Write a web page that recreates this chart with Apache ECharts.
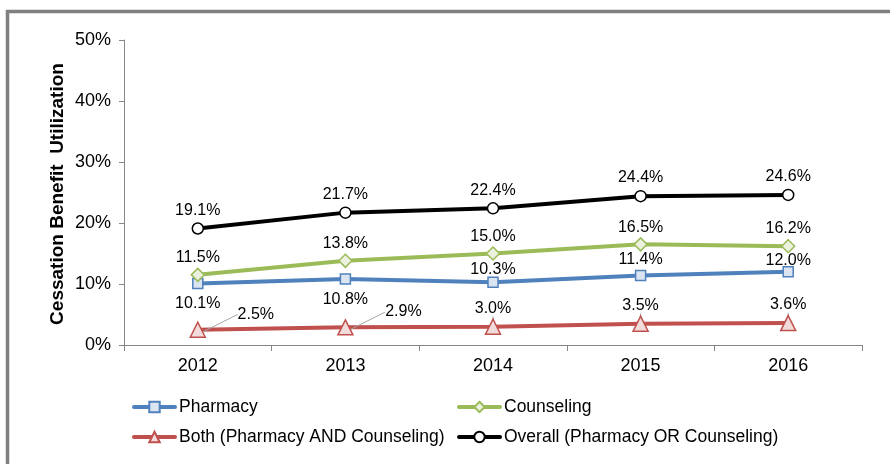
<!DOCTYPE html>
<html>
<head>
<meta charset="utf-8">
<script src="https://cdn.jsdelivr.net/npm/echarts@6/dist/echarts.min.js"></script>
<style>
html,body{margin:0;padding:0;background:#fff;}
#chart{width:890px;height:464px;}
</style>
</head>
<body>
<div id="chart"></div>
<script>
const years = ['2012', '2013', '2014', '2015', '2016'];
const pharmacy = [10.1, 10.8, 10.3, 11.4, 12.0];
const counseling = [11.5, 13.8, 15.0, 16.5, 16.2];
const both = [2.5, 2.9, 3.0, 3.5, 3.6];
const overall = [19.1, 21.7, 22.4, 24.4, 24.6];
const yTicks = [0, 10, 20, 30, 40, 50];
const yTitle = 'Cessation Benefit  Utilization';

const FONT = '"Liberation Sans", Arial, sans-serif';
const chart = echarts.init(document.getElementById('chart'));

const lblBase = {show: true, fontFamily: FONT, fontSize: 16, color: '#000', formatter: p => p.value.toFixed(1) + '%'};

function legend(name, left, top) {
  return {
    data: [name], left: left, top: top, itemWidth: 41, itemHeight: 13, itemGap: 0,
    lineStyle: {width: 4, cap: 'round'},
    textStyle: {fontFamily: FONT, fontSize: 17.5, color: '#000', padding: [0, 0, 0, -1]},
    selectedMode: false
  };
}

chart.setOption({
  animation: false,
  backgroundColor: '#fff',
  graphic: [{
    type: 'rect', shape: {x: 7.5, y: 11.5, width: 1000, height: 1000},
    style: {fill: 'none', stroke: '#808080', lineWidth: 3.5}, silent: true
  }, {
    type: 'text', x: 58, y: 194, rotation: Math.PI / 2,
    style: {text: yTitle, font: 'bold 19px ' + FONT, fill: '#000', align: 'center', verticalAlign: 'middle'},
    silent: true
  }],
  grid: {left: 124, right: 28, top: 40, bottom: 119},
  legend: [
    legend('Pharmacy', 127, 393),
    legend('Counseling', 452, 393),
    legend('Both (Pharmacy AND Counseling)', 127, 423),
    legend('Overall (Pharmacy OR Counseling)', 452, 423)
  ],
  xAxis: {
    type: 'category', data: years, boundaryGap: true,
    axisLine: {lineStyle: {color: '#868686', width: 1}},
    axisTick: {show: true, length: 6, lineStyle: {color: '#868686'}},
    axisLabel: {fontFamily: FONT, fontSize: 18, color: '#000', margin: 12}
  },
  yAxis: {
    type: 'value', min: 0, max: 50, interval: 10,
    axisLine: {show: true, lineStyle: {color: '#868686', width: 1}},
    axisTick: {show: true, length: 5, lineStyle: {color: '#868686'}},
    splitLine: {show: false},
    axisLabel: {fontFamily: FONT, fontSize: 18, color: '#000', margin: 13,
      formatter: v => yTicks.includes(v) ? v + '%' : ''}
  },
  series: [
    {
      name: 'Pharmacy', type: 'line', data: pharmacy,
      symbol: 'rect', symbolSize: 10,
      lineStyle: {color: '#4f81bd', width: 4},
      itemStyle: {color: '#dbe5f1', borderColor: '#4f81bd', borderWidth: 1.5},
      label: Object.assign({}, lblBase, {position: 'top', distance: 2}),
      labelLayout: p => (p.dataIndex < 2 ? {dy: 36} : p.dataIndex === 2 ? {dy: 3} : p.dataIndex === 4 ? {dy: 5} : {}),
      z: 3
    },
    {
      name: 'Counseling', type: 'line', data: counseling,
      symbol: 'diamond', symbolSize: 13,
      lineStyle: {color: '#9bbb59', width: 4},
      itemStyle: {color: '#ebf1de', borderColor: '#9bbb59', borderWidth: 1.5},
      label: Object.assign({}, lblBase, {position: 'top', distance: 2}),
      z: 4
    },
    {
      name: 'Both (Pharmacy AND Counseling)', type: 'line', data: both,
      symbol: 'triangle', symbolSize: 15,
      lineStyle: {color: '#c0504d', width: 4},
      itemStyle: {color: '#f2dcdb', borderColor: '#c0504d', borderWidth: 1.5},
      label: Object.assign({}, lblBase, {position: 'top', distance: 2}),
      labelLayout: p => (p.dataIndex < 2 ? {dx: 58, dy: 3} : {}),
      labelLine: {show: true, lineStyle: {color: '#a6a6a6', width: 1}},
      z: 2
    },
    {
      name: 'Overall (Pharmacy OR Counseling)', type: 'line', data: overall,
      symbol: 'circle', symbolSize: 11,
      lineStyle: {color: '#000', width: 4},
      itemStyle: {color: '#fff', borderColor: '#000', borderWidth: 1.5},
      label: Object.assign({}, lblBase, {position: 'top', distance: 4}),
      z: 5
    }
  ]
});
</script>
</body>
</html>
